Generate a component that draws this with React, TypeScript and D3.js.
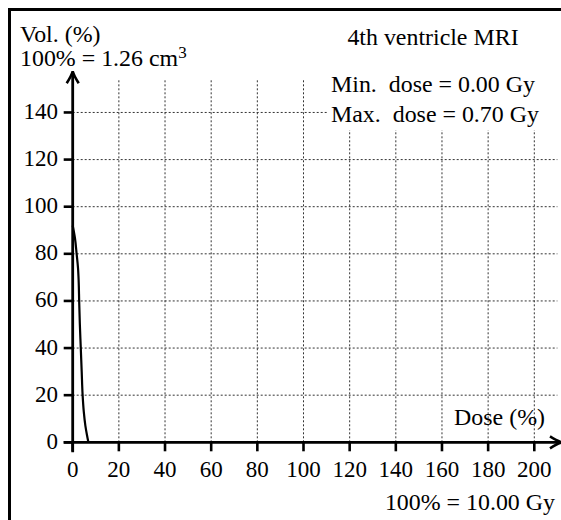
import React from "react";
import * as d3 from "d3";

const xTicks = [0, 20, 40, 60, 80, 100, 120, 140, 160, 180, 200];
const yTicks = [0, 20, 40, 60, 80, 100, 120, 140];
const doseValues = [0, 1, 1.7, 2.3, 2.6, 2.8, 3.1, 3.5, 3.9, 4.3, 4.8, 5.5, 6.2, 6.8];
const volValues = [92, 86.5, 80, 74, 68, 60, 50, 40, 30, 20, 13, 7, 3, 0];

const titleText = "4th ventricle MRI";
const minText = "Min.  dose = 0.00 Gy";
const maxText = "Max.  dose = 0.70 Gy";
const volLabel = "Vol. (%)";
const volRef = "100% = 1.26 cm";
const doseLabel = "Dose (%)";
const doseRef = "100% = 10.00 Gy";

const FONT = "'Liberation Serif', 'DejaVu Serif', serif";

export default function App() {
  const x = d3.scaleLinear().domain([0, 200]).range([72.7, 534.3]);
  const y = d3.scaleLinear().domain([0, 100]).range([442.3, 206.7]);
  const gridTop = 154;
  const gridRight = 210;
  const arrowTopY = y(157.5);
  const arrowRightX = x(212);
  const pts: [number, number][] = doseValues.map((d, i) => [d, volValues[i]]);
  const line = d3
    .line<[number, number]>()
    .x((d) => x(d[0]))
    .y((d) => y(d[1]))
    .curve(d3.curveMonotoneY);
  const fs = 23.9;
  const tfs = 23;
  const x0 = x(0);
  const y0 = y(0);
  return (
    <svg
      width={561}
      height={520}
      style={{ position: "absolute", left: 0, top: 0 }}
      fontFamily={FONT}
    >
      <rect x={0} y={0} width={561} height={520} fill="white" />
      <rect x={9.5} y={9.5} width={600} height={600} fill="none" stroke="black" strokeWidth={3} />
      {/* grid */}
      {xTicks.filter((t) => t > 0).map((t) => (
        <line
          key={"gx" + t}
          x1={x(t)}
          x2={x(t)}
          y1={y0}
          y2={y(gridTop)}
          stroke="#333"
          strokeWidth={1}
          strokeDasharray="2,2"
        />
      ))}
      {yTicks.filter((t) => t > 0).map((t) => (
        <line
          key={"gy" + t}
          x1={x0}
          x2={x(gridRight)}
          y1={y(t)}
          y2={y(t)}
          stroke="#333"
          strokeWidth={1}
          strokeDasharray="2,2"
        />
      ))}
      {/* white box behind min/max */}
      <rect x={327} y={72} width={240} height={58} fill="white" />
      {/* axes */}
      <line x1={x0} x2={x0} y1={y0 + 10} y2={arrowTopY + 1} stroke="black" strokeWidth={2.8} />
      <line x1={x0 - 9} x2={arrowRightX - 1} y1={y0} y2={y0} stroke="black" strokeWidth={2.8} />
      <path
        d={`M${x0 - 6},${arrowTopY + 12} Q${x0 - 1},${arrowTopY + 4} ${x0},${arrowTopY} Q${x0 + 1},${arrowTopY + 4} ${x0 + 6},${arrowTopY + 12}`}
        fill="none"
        stroke="black"
        strokeWidth={2.6}
      />
      <path
        d={`M${arrowRightX - 12},${y0 - 6} Q${arrowRightX - 4},${y0 - 1} ${arrowRightX},${y0} Q${arrowRightX - 4},${y0 + 1} ${arrowRightX - 12},${y0 + 6}`}
        fill="none"
        stroke="black"
        strokeWidth={2.6}
      />
      {/* ticks */}
      {xTicks.map((t) => (
        <g key={"tx" + t}>
          <line x1={x(t)} x2={x(t)} y1={y0} y2={y0 + 9} stroke="black" strokeWidth={2.6} />
          <text x={x(t)} y={477} textAnchor="middle" fontSize={tfs}>
            {t}
          </text>
        </g>
      ))}
      {yTicks.map((t) => (
        <g key={"ty" + t}>
          <line x1={x0 - 9} x2={x0} y1={y(t)} y2={y(t)} stroke="black" strokeWidth={2.6} />
          <text x={58} y={y(t) + 6.5} textAnchor="end" fontSize={tfs}>
            {t}
          </text>
        </g>
      ))}
      {/* curve */}
      <path d={line(pts) || ""} fill="none" stroke="black" strokeWidth={2.2} />
      {/* labels */}
      <text x={20} y={42} fontSize={fs}>
        {volLabel}
      </text>
      <text x={20} y={66} fontSize={fs}>
        {volRef}
        <tspan dy={-8} fontSize={17}>
          3
        </tspan>
      </text>
      <text x={433} y={45} textAnchor="middle" fontSize={fs}>
        {titleText}
      </text>
      <text x={331} y={92} fontSize={fs} style={{ whiteSpace: "pre" }}>
        {minText}
      </text>
      <text x={331} y={122} fontSize={fs} style={{ whiteSpace: "pre" }}>
        {maxText}
      </text>
      <text x={545} y={425} textAnchor="end" fontSize={fs}>
        {doseLabel}
      </text>
      <text x={555} y={510} textAnchor="end" fontSize={fs}>
        {doseRef}
      </text>
    </svg>
  );
}
